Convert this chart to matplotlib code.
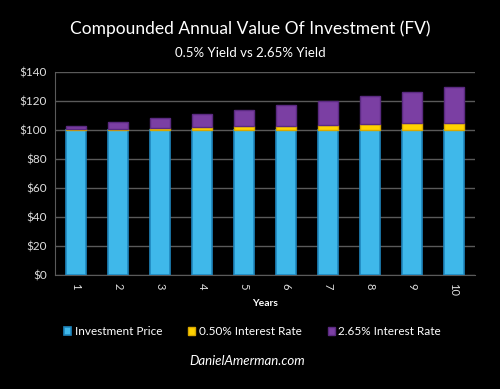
import matplotlib.pyplot as plt
import numpy as np

# dados
anos = ['1', '2', '3', '4', '5', '6', '7', '8', '9', '10']
preco = [100, 100, 100, 100, 100, 100, 100, 100, 100, 100]
juros_050 = [0.5, 1.0, 1.5, 2.0, 2.5, 3.0, 3.6, 4.1, 4.6, 5.1]
juros_265 = [2.2, 4.4, 6.7, 9.0, 11.4, 14.0, 16.5, 19.2, 21.9, 24.8]
rotulos_y = ['$0', '$20', '$40', '$60', '$80', '$100', '$120', '$140']

plt.rcParams['font.family'] = ['Lato', 'DejaVu Sans']

fig = plt.figure(figsize=(5, 3.89), dpi=100, facecolor='black')
ax = fig.add_axes([0.11, 0.293, 0.84, 0.522], facecolor='black')

x = np.arange(len(anos))
w = 0.48
ax.bar(x, preco, w, color='#3fb8ea', edgecolor='#1f86bd', linewidth=1.2,
       label='Investment Price', zorder=3)
ax.bar(x, juros_050, w, bottom=preco, color='#ffd200', edgecolor='#d9a800',
       linewidth=1.0, label='0.50% Interest Rate', zorder=3)
base = np.array(preco) + np.array(juros_050)
ax.bar(x, juros_265, w, bottom=base, color='#7b3fa3', edgecolor='#5a2a80',
       linewidth=1.0, label='2.65% Interest Rate', zorder=3)

ax.set_xlim(-0.5, len(anos) - 0.5)
ax.set_ylim(0, 140)
ax.set_yticks(range(0, 141, 20))
ax.set_yticklabels(rotulos_y, color='#e0e0e0', fontsize=8.5)
ax.set_xticks(x)
ax.set_xticklabels(anos, rotation=-90, color='#e0e0e0', fontsize=8)
ax.tick_params(length=0, pad=6)
ax.grid(axis='y', color='#5a5a5a', linewidth=1, zorder=0)
for s in ['top', 'right']:
    ax.spines[s].set_visible(False)
ax.spines['left'].set_color('#5a5a5a')
ax.spines['bottom'].set_color('#5a5a5a')

ax.set_xlabel('Years', color='white', fontsize=7.5, fontweight='bold', labelpad=2)

fig.text(0.5, 0.925, 'Compounded Annual Value Of Investment (FV)', color='white',
         fontsize=12.5, ha='center', va='center')
fig.text(0.5, 0.865, '0.5% Yield vs 2.65% Yield', color='white',
         fontsize=9.5, ha='center', va='center')

leg = fig.legend(loc='center', bbox_to_anchor=(0.505, 0.147), ncol=3, frameon=False,
                 fontsize=8.5, handlelength=0.6, handleheight=0.6,
                 columnspacing=2.2, handletextpad=0.3)
for t in leg.get_texts():
    t.set_color('white')

fig.text(0.495, 0.072, 'DanielAmerman.com', color='white', fontsize=9.5,
         style='italic', ha='center', va='center')

fig.savefig('out.png', dpi=100, facecolor='black')
